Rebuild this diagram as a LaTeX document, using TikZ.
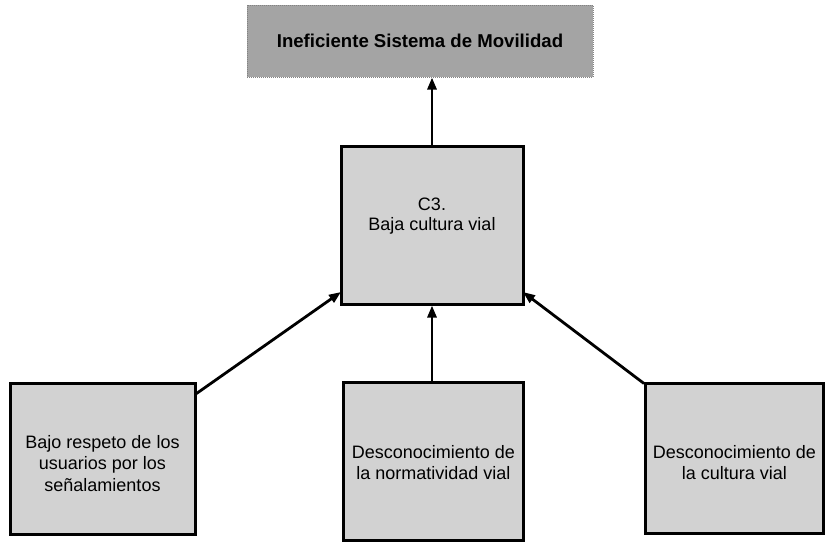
\documentclass[tikz,border=0pt]{standalone}
\usepackage{fontspec}
\setmainfont{Liberation Sans}
\usetikzlibrary{arrows.meta}
\definecolor{lightbox}{HTML}{D2D2D2}
\definecolor{darkbox}{HTML}{A4A4A4}
\begin{document}
\begin{tikzpicture}[x=1pt,y=-1pt,
  box/.style={draw=black,line width=3pt,fill=lightbox,inner sep=0pt},
  boxtext/.style={inner sep=0pt,align=center,font=\fontsize{18}{21.5}\selectfont},
  topbox/.style={draw=darkbox!80!black,line width=1pt,densely dotted,fill=darkbox,inner sep=0pt,align=center,font=\bfseries\fontsize{18.6}{21.5}\selectfont},
  arr/.style={line width=2.8pt,-{Triangle[length=12pt,width=9pt]}}]
\useasboundingbox (0,0) rectangle (828,542);
\node[topbox,minimum width=346pt,minimum height=72pt] (top) at (420,41) {Ineficiente Sistema de Movilidad};
\node[box,minimum width=182pt,minimum height=158pt] (c3) at (432,225) {};
\node[boxtext] (c3t) at (432,216) {C3.\\[-1pt]Baja cultura vial};
\node[box,minimum width=185pt,minimum height=151pt] (b1) at (102.5,458.5) {};
\node[boxtext] (b1t) at (102.5,463.5) {Bajo respeto de los\\usuarios por los\\señalamientos};
\node[box,minimum width=180pt,minimum height=158pt] (b2) at (433.5,461) {};
\node[boxtext] (b2t) at (433.5,462.5) {Desconocimiento de\\la normatividad vial};
\node[box,minimum width=178pt,minimum height=150pt] (b3) at (734.5,458) {};
\node[boxtext] (b3t) at (734.5,462.5) {Desconocimiento de\\la cultura vial};
\coordinate (t1) at (341,292);
\coordinate (t3) at (523,292);
\draw[arr] (c3.north) -- (c3.north |- top.south);
\draw[arr] (b1.north east) ++(0,12) -- (t1);
\draw[arr] (b2.north -| c3.south) -- (c3.south);
\draw[arr] (b3.north west) ++(0,2) -- (t3);
\end{tikzpicture}
\end{document}
